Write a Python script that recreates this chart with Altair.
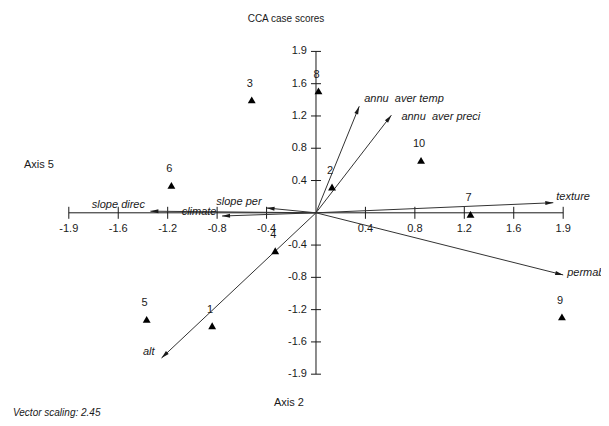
import math
import altair as alt
import pandas as pd

# ---------------- data ----------------
sample_ids = ["1", "2", "3", "4", "5", "6", "7", "8", "9", "10"]
sample_x = [-0.84, 0.13, -0.52, -0.33, -1.37, -1.17, 1.25, 0.02, 1.99, 0.85]
sample_y = [-1.40, 0.32, 1.40, -0.47, -1.32, 0.34, -0.02, 1.51, -1.29, 0.65]

vector_names = ["annu\u00a0 aver temp", "annu\u00a0 aver preci", "texture", "permability",
                "slope direc", "climate", "slope per", "alt"]
vector_x = [0.35, 0.61, 1.92, 2.00, -1.34, -0.76, -0.40, -1.25]
vector_y = [1.32, 1.21, 0.125, -0.77, 0.02, -0.04, 0.06, -1.80]

tick_pos = [-2.0, -1.6, -1.2, -0.8, -0.4, 0.4, 0.8, 1.2, 1.6, 2.0]
tick_labels = ["-1.9", "-1.6", "-1.2", "-0.8", "-0.4", "0.4", "0.8", "1.2", "1.6", "1.9"]

title_text = "CCA case scores"
x_axis_title = "Axis 5"
y_axis_title = "Axis 2"
footnote = "Vector scaling: 2.45"

# ---------------- layout / style ----------------
W, H = 593, 410
X_DOM = [-2.492, 2.306]
Y_DOM = [-2.543, 2.538]
kx = W / (X_DOM[1] - X_DOM[0])
ky = H / (Y_DOM[1] - Y_DOM[0])
FONT = "Liberation Sans"
INK = "#1a1a1a"

xs = alt.Scale(domain=X_DOM, nice=False, zero=False)
ys = alt.Scale(domain=Y_DOM, nice=False, zero=False)


def X(f):
    return alt.X(f, type="quantitative", scale=xs, axis=None)


def Y(f):
    return alt.Y(f, type="quantitative", scale=ys, axis=None)


lo, hi = min(tick_pos), max(tick_pos)
axes_df = pd.DataFrame({"x": [lo, 0.0], "y": [0.0, lo], "x2": [hi, 0.0], "y2": [0.0, hi]})
ticks_df = pd.DataFrame({"p": tick_pos, "lab": tick_labels, "z": [0.0] * len(tick_pos)})
samples_df = pd.DataFrame({"id": sample_ids, "x": sample_x, "y": sample_y})
vec_df = pd.DataFrame({"name": vector_names, "x": vector_x, "y": vector_y,
                       "x0": [0.0] * len(vector_x), "y0": [0.0] * len(vector_x)})
vec_df["ang"] = [(90 - math.degrees(math.atan2(vy * ky, vx * kx))) % 360
                 for vx, vy in zip(vector_x, vector_y)]

layers = []

# axes lines
layers.append(alt.Chart(axes_df).mark_rule(color=INK, strokeWidth=1).encode(
    x=X("x"), y=Y("y"), x2="x2", y2="y2"))

# x ticks & labels
layers.append(alt.Chart(ticks_df).mark_rule(color=INK, strokeWidth=1, yOffset=-6, y2Offset=6).encode(
    x=X("p"), y=Y("z"), y2="z"))
layers.append(alt.Chart(ticks_df).mark_text(font=FONT, fontSize=11, color=INK, dy=16).encode(
    x=X("p"), y=Y("z"), text="lab"))
# y ticks & labels
layers.append(alt.Chart(ticks_df).mark_rule(color=INK, strokeWidth=1, xOffset=-5, x2Offset=5).encode(
    y=Y("p"), x=X("z"), x2="z"))
layers.append(alt.Chart(ticks_df).mark_text(font=FONT, fontSize=11, color=INK, align="right",
                                            baseline="middle", dx=-9).encode(
    y=Y("p"), x=X("z"), text="lab"))

# vectors
layers.append(alt.Chart(vec_df).mark_rule(color="#333333", strokeWidth=1).encode(
    x=X("x0"), y=Y("y0"), x2="x", y2="y"))
layers.append(alt.Chart(vec_df).mark_point(shape="M0,0L-0.5,2L0.5,2Z", size=64, filled=True,
                                           color=INK, opacity=1).encode(
    x=X("x"), y=Y("y"), angle=alt.Angle("ang:Q", scale=None)))

label_style = {
    "annu\u00a0 aver temp": dict(align="left", dx=5, dy=-7),
    "annu\u00a0 aver preci": dict(align="left", dx=10, dy=2),
    "texture": dict(align="left", dx=3, dy=-6),
    "permability": dict(align="left", dx=4, dy=-2),
    "slope direc": dict(align="center", dx=-32, dy=-6),
    "climate": dict(align="center", dx=-23, dy=-4),
    "slope per": dict(align="right", dx=-5, dy=-6),
    "alt": dict(align="right", dx=-7, dy=-6),
}
for name, st in label_style.items():
    layers.append(alt.Chart(vec_df[vec_df["name"] == name]).mark_text(
        font=FONT, fontSize=11, fontStyle="italic", color=INK, baseline="middle", **st).encode(
        x=X("x"), y=Y("y"), text="name"))

# samples
layers.append(alt.Chart(samples_df).mark_point(shape="triangle-up", size=62, filled=True,
                                               color="black", opacity=1).encode(
    x=X("x"), y=Y("y")))
layers.append(alt.Chart(samples_df).mark_text(font=FONT, fontSize=11, color=INK, dx=-2, dy=-16).encode(
    x=X("x"), y=Y("y"), text="id"))

# annotations
def note(txt, x, y, **kw):
    return alt.Chart(pd.DataFrame({"t": [txt]})).mark_text(
        font=FONT, color=INK, baseline="middle", **kw).encode(
        x=alt.value(x), y=alt.value(y), text="t")

layers.append(note(title_text, 278, 11, fontSize=10, align="center"))
layers.append(note(x_axis_title, 31, 157, fontSize=11, align="center"))
layers.append(note(y_axis_title, 281, 395, fontSize=11, align="center"))
layers.append(note(footnote, 5, 405, fontSize=10, align="left", fontStyle="italic"))

chart = alt.layer(*layers).properties(
    width=W, height=H, padding=0,
    autosize=alt.AutoSizeParams(type="none"),
    background="white",
).configure_view(stroke=None)

chart.save("out.html", embed_options={"renderer": "svg", "actions": False})
